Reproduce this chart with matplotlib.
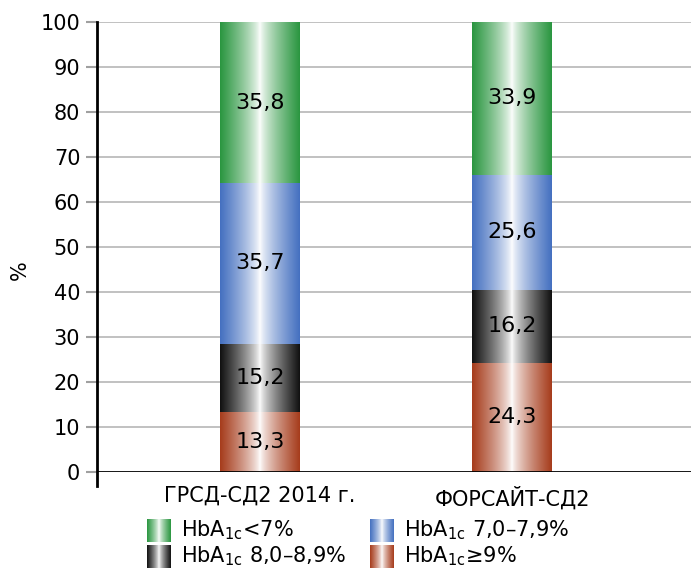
import matplotlib
matplotlib.use("Agg")
import matplotlib.pyplot as plt
import numpy as np
from matplotlib.colors import to_rgb

# HbA1c distribution in the two registries, % of patients (bottom to top)
categories = ["ГРСД-СД2 2014 г.", "ФОРСАЙТ-СД2"]
groups = [r"HbA$_{\mathrm{1c}}$≥9%", r"HbA$_{\mathrm{1c}}$ 8,0–8,9%",
          r"HbA$_{\mathrm{1c}}$ 7,0–7,9%", r"HbA$_{\mathrm{1c}}$<7%"]
hba_ge9 = [13.3, 24.3]
hba_8_89 = [15.2, 16.2]
hba_7_79 = [35.7, 25.6]
hba_lt7 = [35.8, 33.9]
series = [hba_ge9, hba_8_89, hba_7_79, hba_lt7]
yticks = list(range(0, 101, 10))

COLORS = ["#a63c1c", "#111111", "#4470c0", "#2a9640"]

plt.rcParams["font.family"] = ["DejaVu Sans"]


def gradient(color, n=200):
    """Horizontal cylinder shading: full colour at the edges, white in the middle."""
    c = np.array(to_rgb(color))
    t = np.abs(np.linspace(-1, 1, n)) ** 0.75
    row = 1 - (1 - c)[None, :] * t[:, None]
    return row[None, :, :]


fig = plt.figure(figsize=(6.91, 5.69), dpi=100)
ax = fig.add_axes([97 / 691, 97 / 569, 1 - 97 / 691, 450 / 569])

width = 0.317
x = np.arange(len(categories))
bottom = np.zeros(len(categories))
for vals, col in zip(series, COLORS):
    img = gradient(col)
    for xi, b, v in zip(x, bottom, vals):
        ax.imshow(img, extent=[xi - width / 2, xi + width / 2, b, b + v],
                  aspect="auto", interpolation="bilinear", zorder=2)
        ax.text(xi, b + v / 2, f"{v:.1f}".replace(".", ","), ha="center",
                va="center", fontsize=16, color="black", zorder=3)
    bottom += np.array(vals)

ax.set_xlim(-0.647, 1.71)
ax.set_ylim(0, 100)
ax.set_yticks(yticks)
ax.tick_params(axis="y", labelsize=15, length=8, width=1.5, color="#a0a0a0", pad=4)
ax.get_yticklines()[0].set_color("black")
ax.set_xticks(x)
ax.set_xticklabels(categories, fontsize=15)
ax.tick_params(axis="x", length=0, pad=10)
fig.text(20 / 691, 1 - 270 / 569, "%", fontsize=15, rotation=90,
         ha="center", va="center")

for y in yticks[1:]:
    ax.axhline(y, color="#bcbcbc", lw=1.3, zorder=1)

for side in ["top", "right", "bottom", "left"]:
    ax.spines[side].set_visible(False)
ax.axhline(0, color="black", lw=2, zorder=4)
ax.plot([0, 0], [-3, 100], transform=ax.get_yaxis_transform(), color="black",
        lw=2, clip_on=False, zorder=4)

# legend with shaded swatches, drawn in figure pixel space
lax = fig.add_axes([0, 0, 1, 1], zorder=5)
legend_pos = [(370, 545), (147, 545), (370, 519), (147, 519)]
for (px, py), col, lab in zip(legend_pos, COLORS, groups):
    lax.imshow(gradient(col), extent=[px, px + 24, py + 23, py],
               aspect="auto", interpolation="bilinear")
    lax.text(px + 34, py + 11, lab, fontsize=15, va="center", ha="left")
lax.set_xlim(0, 691)
lax.set_ylim(569, 0)
lax.axis("off")

fig.savefig("out.png", dpi=100)
